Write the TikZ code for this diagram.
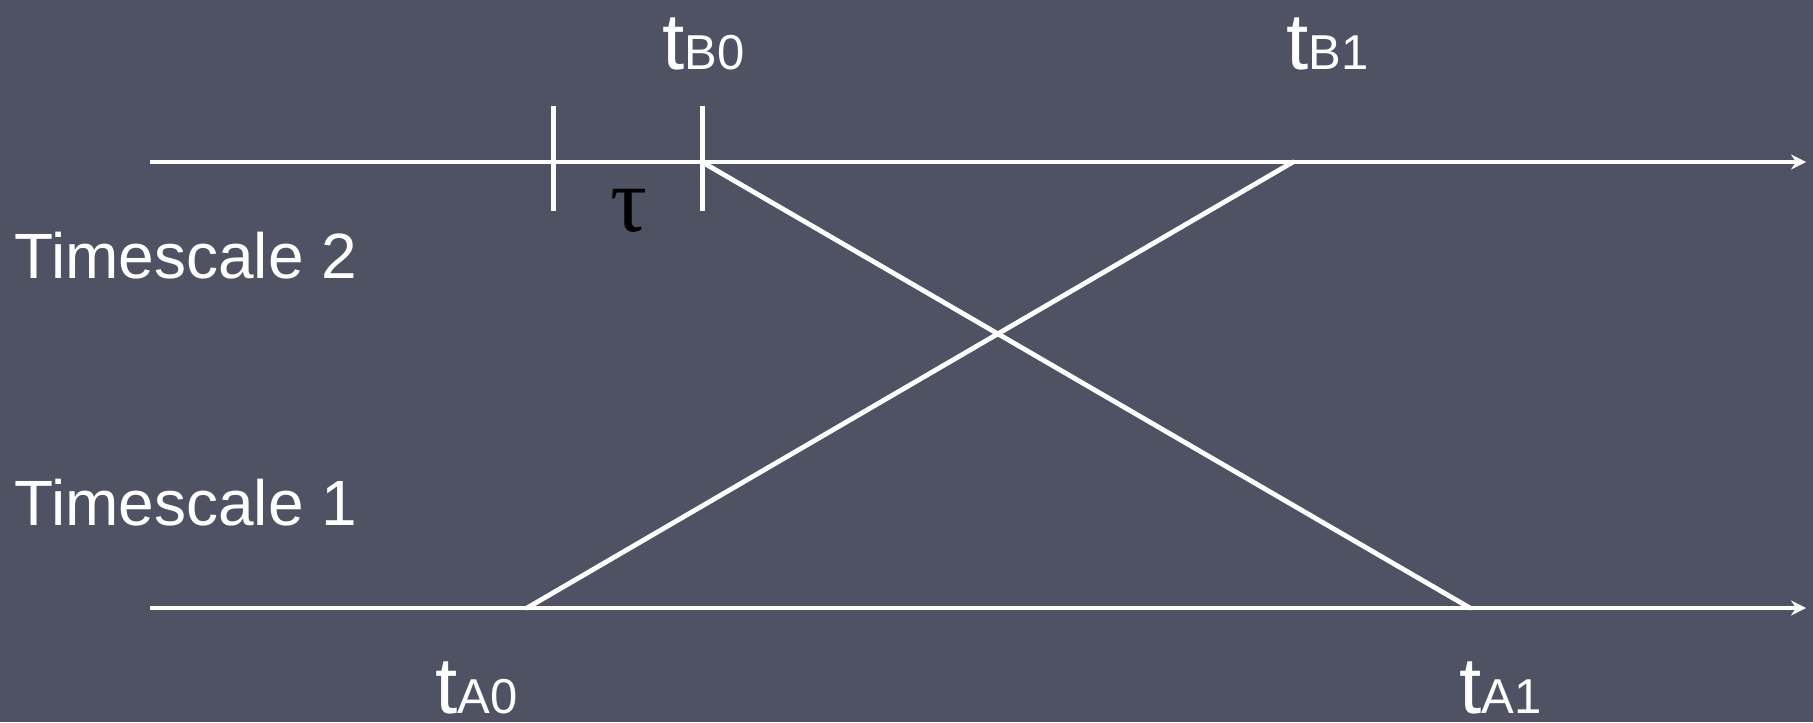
\documentclass[tikz,border=0pt]{standalone}
\usepackage{fontspec}
\setmainfont{Liberation Sans}
\newfontfamily\serifgr{Liberation Serif}
\usetikzlibrary{arrows.meta}
\definecolor{board}{RGB}{78,82,98}
\begin{document}
\begin{tikzpicture}[x=0.5pt,y=-0.5pt,
  axis/.style={white,line width=2.4pt,-{Stealth[length=7.5pt,width=7.5pt,inset=2.5pt]}},
  wire/.style={white,line width=2.4pt,line cap=round},
  tick/.style={white,line width=2.5pt},
  lab/.style={white,inner sep=0pt,anchor=base west},
  tlab/.style={lab}]
\fill[board] (0,0) rectangle (1813,722);
\useasboundingbox (0,0) rectangle (1813,722);
% coordinates
\coordinate (s2) at (150,162);
\coordinate (e2) at (1806,162);
\coordinate (s1) at (150,608);
\coordinate (e1) at (1806,608);
\coordinate (b0) at (702,162);
\coordinate (b1) at (1293,162);
\coordinate (a0) at (527,608);
\coordinate (a1) at (1470,608);
\coordinate (k1t) at (553,106);
\coordinate (k1b) at (553,211);
\coordinate (k2t) at (702,106);
\coordinate (k2b) at (702,211);
% axes
\draw[axis] (s2) -- (e2);
\draw[axis] (s1) -- (e1);
% ticks
\draw[tick] (k1t) -- (k1b);
\draw[tick] (k2t) -- (k2b);
% crossing lines
\draw[wire] (b0) -- (a1);
\draw[wire] (a0) -- (b1);
% labels
\node[tlab] (lb0) at (662,70) {\fontsize{40}{40}\selectfont t\fontsize{24.5}{24.5}\selectfont B0};
\node[tlab] (lb1) at (1286,70) {\fontsize{40}{40}\selectfont t\fontsize{24.5}{24.5}\selectfont B1};
\node[tlab] (la0) at (435,713) {\fontsize{40}{40}\selectfont t\fontsize{24.5}{24.5}\selectfont A0};
\node[tlab] (la1) at (1459,713) {\fontsize{40}{40}\selectfont t\fontsize{24.5}{24.5}\selectfont A1};
\node[lab,black] (tau) at (610,231) {\serifgr\fontsize{46}{46}\selectfont τ};
\node[lab] (ts2) at (14,278) {\fontsize{32}{32}\selectfont Timescale 2};
\node[lab] (ts1) at (14,525) {\fontsize{32}{32}\selectfont Timescale 1};
\end{tikzpicture}
\end{document}
